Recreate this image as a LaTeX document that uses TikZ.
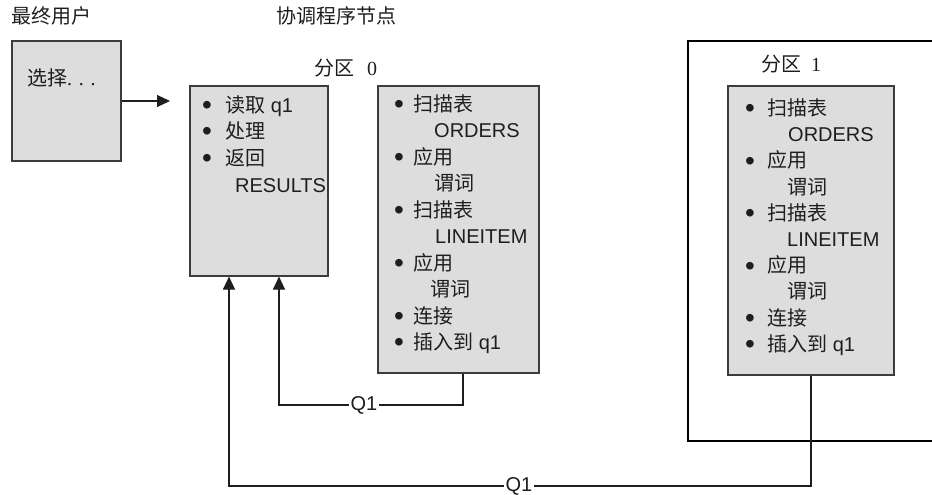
\documentclass[tikz,border=0pt]{standalone}
\usepackage{fontspec}
\setmainfont{Liberation Sans}
\newfontfamily\cjkfont{Noto Sans CJK SC}
\newfontfamily\serifnum{Liberation Serif}
\usetikzlibrary{arrows.meta}
\definecolor{boxfill}{RGB}{221,221,222}
\definecolor{boxline}{RGB}{60,60,60}
\definecolor{ink}{RGB}{30,30,30}
\newcommand\zw[1]{{\cjkfont #1}}
\newcommand\bl[2]{\makebox[#1][l]{\raisebox{-2.4pt}{\fontsize{28}{28}\selectfont\textbullet}}#2}
\begin{document}
\begin{tikzpicture}[x=1pt,y=-1pt,
  box/.style={draw=boxline,fill=boxfill,line width=1.1pt,inner sep=0},
  txt/.style={inner sep=0,anchor=base west,font=\fontsize{20}{24}\selectfont,text=ink},
  conn/.style={draw=ink,line width=1.1pt},
  tip/.style={-{Triangle[length=13pt,width=12pt]}},
  lbl/.style={fill=white,inner sep=2pt,font=\fontsize{20}{24}\selectfont,text=ink},
  outer/.style={draw=black,line width=2pt}]
\useasboundingbox (0,0) rectangle (932,495);

% headings
\node[txt] (hUser) at (11,24) {\zw{最终用户}};
\node[txt] (hCoord) at (276,24) {\zw{协调程序节点}};
\node[txt] (hP0) at (314,75) {\zw{分区}\hspace{13pt}{\serifnum 0}};
\node[txt] (hP1) at (761,72) {\zw{分区}\hspace{10pt}{\serifnum 1}};

% partition 1 frame
\draw[outer] (932,41) -- (688,41) -- (688,441) -- (932,441);

% boxes
\node[box,minimum width=109pt,minimum height=120pt] (user) at (66.5,101) {};
\node[box,minimum width=138pt,minimum height=190pt] (b1) at (259,181) {};
\node[box,minimum width=161pt,minimum height=287pt] (b2) at (458.5,229.5) {};
\node[box,minimum width=166pt,minimum height=289pt] (b3) at (811,230.5) {};

\node[txt] (sel) at (27,85) {\zw{选择}{\serifnum . . .}};

% box 1 text
\node[txt] (b1a) at (202,112)   {\bl{23pt}{\zw{读取} q1}};
\node[txt] (b1b) at (202,138.5) {\bl{23pt}{\zw{处理}}};
\node[txt] (b1c) at (202,165)   {\bl{23pt}{\zw{返回}}};
\node[txt] (b1d) at (235,192)   {RESULTS};

% box 2 text
\node[txt] (b2a) at (394,111)   {\bl{19pt}{\zw{扫描表}}};
\node[txt] (b2b) at (434,137.5) {ORDERS};
\node[txt] (b2c) at (394,164)   {\bl{19pt}{\zw{应用}}};
\node[txt] (b2d) at (434,190.5) {\zw{谓词}};
\node[txt] (b2e) at (394,217)   {\bl{19pt}{\zw{扫描表}}};
\node[txt] (b2f) at (435,243.5) {LINEITEM};
\node[txt] (b2g) at (394,270)   {\bl{19pt}{\zw{应用}}};
\node[txt] (b2h) at (430,296.5) {\zw{谓词}};
\node[txt] (b2i) at (394,323)   {\bl{19pt}{\zw{连接}}};
\node[txt] (b2j) at (394,349.5) {\bl{19pt}{\zw{插入到} q1}};

% box 3 text
\node[txt] (b3a) at (745,115.5) {\bl{22pt}{\zw{扫描表}}};
\node[txt] (b3b) at (788,141.7) {ORDERS};
\node[txt] (b3c) at (745,167.9) {\bl{22pt}{\zw{应用}}};
\node[txt] (b3d) at (787,194.1) {\zw{谓词}};
\node[txt] (b3e) at (745,220.3) {\bl{22pt}{\zw{扫描表}}};
\node[txt] (b3f) at (787,246.5) {LINEITEM};
\node[txt] (b3g) at (745,272.7) {\bl{22pt}{\zw{应用}}};
\node[txt] (b3h) at (787,298.9) {\zw{谓词}};
\node[txt] (b3i) at (745,325.1) {\bl{22pt}{\zw{连接}}};
\node[txt] (b3j) at (745,351.3) {\bl{22pt}{\zw{插入到} q1}};

% connectors
\coordinate (uTip) at (170,101);
\draw[conn,tip] (user.east) -- (uTip);

\coordinate (c1) at (463,405);
\coordinate (c2) at (279,405);
\draw[conn,tip] (463,0 |- b2.south) -- (c1) -- (c2) -- (279,0 |- b1.south);
\node[lbl] (q1a) at (364,405) {Q1};

\coordinate (d1) at (811,486);
\coordinate (d2) at (229,486);
\draw[conn,tip] (b3.south) -- (d1) -- (d2) -- (229,0 |- b1.south);
\node[lbl] (q1b) at (519,486) {Q1};
\end{tikzpicture}
\end{document}
